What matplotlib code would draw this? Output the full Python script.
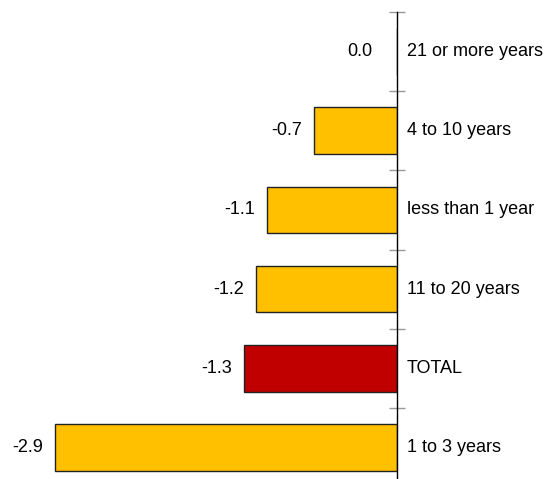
import matplotlib
matplotlib.use("Agg")
import matplotlib.pyplot as plt
from matplotlib.transforms import offset_copy
import numpy as np

plt.rcParams['font.family'] = ['Liberation Sans', 'DejaVu Sans']

categories = ["21 or more years", "4 to 10 years", "less than 1 year",
              "11 to 20 years", "TOTAL", "1 to 3 years"]
values = [0.0, -0.7, -1.1, -1.2, -1.3, -2.9]
highlight = "TOTAL"

GOLD = "#FFC000"
RED = "#C00000"

fig = plt.figure(figsize=(5.47, 4.79), dpi=100)
ax = fig.add_axes([0.0, 1 - 487 / 479, 397 / 547, (487 - 12) / 479])

y = np.arange(len(categories))
colors = [RED if c == highlight else GOLD for c in categories]
ax.barh(y, values, height=0.59, color=colors, edgecolor="#222222",
        linewidth=1.0, zorder=2)

ax.set_xlim(-397 / 117.9, 0)
ax.set_ylim(len(categories) - 0.5, -0.5)

for s in ("left", "top", "bottom"):
    ax.spines[s].set_visible(False)
ax.spines["right"].set_linewidth(1.0)
ax.spines["right"].set_color("black")
ax.spines["right"].set_zorder(3)

ax.set_xticks([])
ax.yaxis.tick_right()
ax.set_yticks(np.arange(-0.5, len(categories), 1.0))
ax.set_yticklabels([])
ax.tick_params(axis="y", direction="inout", length=11, width=1.0,
               color="#999999")

for yi, v, c in zip(y, values, categories):
    dx = -25 if v == 0 else -12
    tr = offset_copy(ax.transData, fig=fig, x=dx * 72 / 100, y=0, units="points")
    ax.text(v, yi, f"{v:.1f}", transform=tr, ha="right", va="center",
            fontsize=13, color="black")
    tr2 = offset_copy(ax.transData, fig=fig, x=10 * 72 / 100, y=0, units="points")
    ax.text(0, yi, c, transform=tr2, ha="left", va="center",
            fontsize=13, color="black", clip_on=False)

fig.savefig("out.png", dpi=100)
